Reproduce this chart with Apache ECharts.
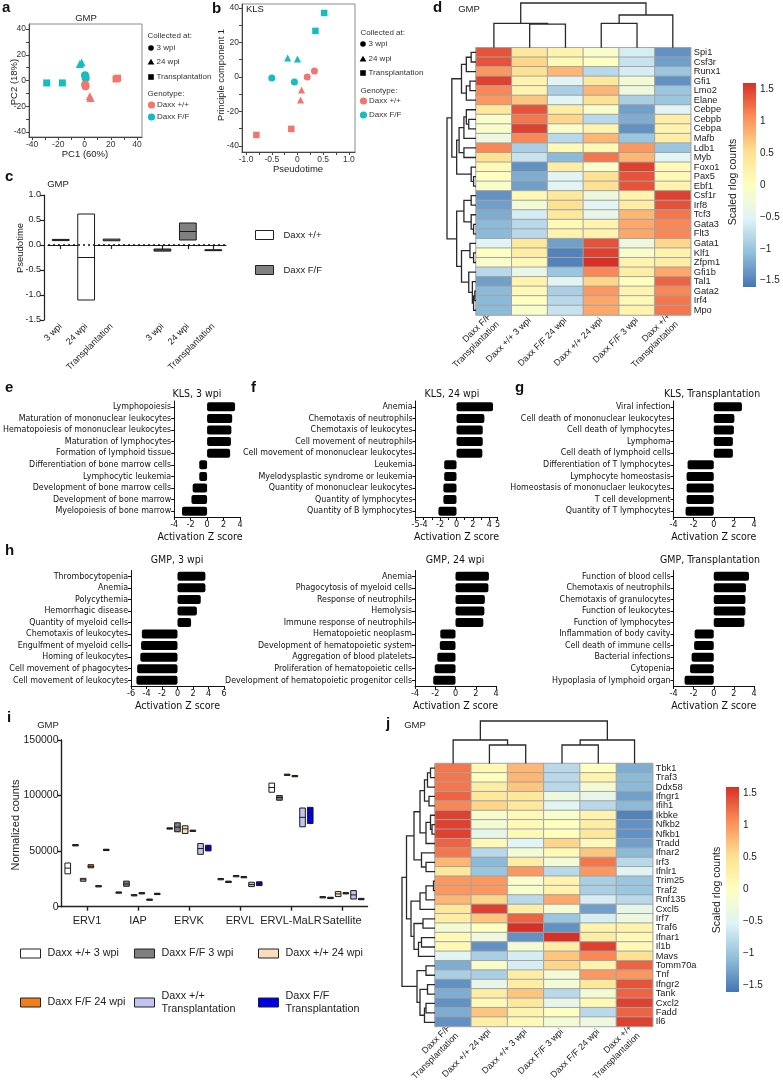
<!DOCTYPE html>
<html><head><meta charset="utf-8">
<script src="https://cdn.jsdelivr.net/npm/echarts@6/dist/echarts.min.js"></script>
<style>html,body{margin:0;padding:0;background:#fff}#c{width:783px;height:1084px}</style>
</head><body><div id="c"></div><script>
// ---------------- DATA ----------------
// Panel a (GMP PCA): [PC1, PC2]
const aWT_3wpi = [[0.5,-3.2],[0.8,-4.5]];
const aWT_24wpi = [[4.0,-12.3],[4.6,-13.6]];
const aWT_tx = [[24.0,1.2],[25.2,1.8]];
const aFF_3wpi = [[0.4,4.1],[0.9,2.0]];
const aFF_24wpi = [[-3.6,12.8],[-2.2,14.0]];
const aFF_tx = [[-28.8,-1.9],[-16.9,-1.9]];
const aTicks = [-40,-20,0,20,40];
// Panel b (KLS): [pseudotime, PC1]
const bWT_3wpi = [[0.19,0.0],[0.33,3.5]];
const bWT_24wpi = [[0.08,-7.5],[0.06,-13.3]];
const bWT_tx = [[-0.12,-30.1],[-0.80,-33.6]];
const bFF_3wpi = [[-0.50,-0.6],[-0.06,-2.9]];
const bFF_24wpi = [[-0.19,11.0],[0.0,10.4]];
const bFF_tx = [[0.52,37.1],[0.35,26.7]];
const bXTicks = [-1,-0.5,0,0.5,1];
const bYTicks = [-40,-20,0,20,40];
// Panel c: categories and [catIndex, min, median, max]
const cCats = ['3 wpi','24 wpi','Transplantation','','3 wpi','24 wpi','Transplantation'];
const cWT = [[0,0.088,0.1,0.112],[1,-1.1,-0.25,0.62],[2,0.085,0.1,0.118]];
const cFF = [[4,-0.122,-0.1,-0.08],[5,0.1,0.27,0.44],[6,-0.103,-0.1,-0.097]];
// Panel d heatmap
const dCols = ['Daxx F/F\nTransplantation','Daxx +/+ 3 wpi','Daxx F/F 24 wpi','Daxx +/+ 24 wpi','Daxx F/F 3 wpi','Daxx +/+\nTransplantation'];
const dRows = ['Spi1','Csf3r','Runx1','Gfi1','Lmo2','Elane','Cebpe','Cebpb','Cebpa','Mafb','Ldb1','Myb','Foxo1','Pax5','Ebf1','Csf1r','Irf8','Tcf3','Gata3','Flt3','Gata1','Klf1','Zfpm1','Gfi1b','Tal1','Gata2','Irf4','Mpo'];
const dValues = [
 [1.4,0.4,0.2,-0.1,-0.6,-1.4],[1.4,0.6,0.1,0.0,-0.7,-1.3],[1.0,0.5,0.8,-0.8,-0.6,-1.0],[1.5,0.2,-0.5,0.4,-0.2,-1.4],
 [1.1,0.2,-0.9,0.8,-0.3,-1.0],[1.0,0.7,-0.5,0.5,-0.9,-1.0],[0.4,1.4,0.3,-0.1,-1.3,-0.5],[-0.1,1.2,0.6,-0.8,-1.2,0.3],
 [-0.1,1.5,-0.1,0.2,-1.4,0.2],[-0.3,1.1,-0.8,0.8,-1.0,0.3],[1.1,-0.9,0.1,0.1,1.0,-1.0],[0.5,-0.7,-1.1,1.2,0.8,-0.5],
 [0.1,-1.4,0.3,-0.1,1.5,0.1],[0.0,-1.2,-0.5,0.5,1.4,0.1],[-0.1,-1.3,-0.5,0.5,1.4,0.2],[-1.4,0.1,0.4,-0.3,0.2,1.5],
 [-1.3,-0.2,0.5,-0.5,0.3,1.4],[-1.2,-0.6,0.4,-0.4,0.8,1.2],[-1.1,-0.8,0.1,0.2,0.9,1.1],[-1.1,-0.8,0.2,0.2,0.9,1.1],
 [-0.5,0.4,-1.3,1.4,-0.3,0.6],[0.0,0.3,-1.5,1.5,-0.1,0.2],[-0.1,0.1,-1.5,1.6,0.2,0.3],[-0.8,-0.4,-1.0,1.1,0.3,0.9],
 [-1.3,0.2,-0.5,0.6,0.0,1.3],[-1.1,0.1,-0.9,1.0,0.2,1.1],[-1.1,0.0,-0.8,0.9,0.1,1.2],[-1.1,-0.1,-0.7,0.9,0.2,1.2]];
// dendrogram merges [childA, childB, height]; ids >= n are earlier merges
const dColMerges = [[1,2,23.5],[0,6,24.4],[3,4,24.4],[8,5,32.7],[7,9,44.7]];
const dRowMerges = [[0,1,2],[3,4,2.5],[13,14,1],[12,30,2],[15,16,2],[18,19,1],[17,33,2],[21,22,1],[20,35,2.5],
 [25,26,0.5],[37,27,1],[24,38,1.5],[23,39,3],[7,8,3],[6,41,4],[42,9,5],[10,11,5],[28,2,4],[29,5,4],[45,46,6],
 [43,44,7],[48,31,8],[47,49,10],[32,34,5],[36,40,6],[51,52,8],[50,53,12]];
// Panels e-h
const eLabels = ['Lymphopoiesis','Maturation of mononuclear leukocytes','Hematopoiesis of mononuclear leukocytes','Maturation of lymphocytes','Formation of lymphoid tissue','Differentiation of bone marrow cells','Lymphocytic leukemia','Development of bone marrow cells','Development of bone marrow','Myelopoiesis of bone marrow'];
const eValues = [3.4,3.05,2.95,2.9,2.8,-0.95,-0.95,-1.75,-1.9,-3.05];
const fLabels = ['Anemia','Chemotaxis of neutrophils','Chemotaxis of leukocytes','Cell movement of neutrophils','Cell movement of mononuclear leukocytes','Leukemia','Myelodysplastic syndrome or leukemia','Quantity of mononuclear leukocytes','Quantity of lymphocytes','Quantity of B lymphocytes'];
const fValues = [4.45,3.4,3.2,3.2,3.15,-1.5,-1.5,-1.6,-1.6,-2.2];
const fTickLabels = [-5,-4,-2,0,2,4,5];
const gLabels = ['Viral infection','Cell death of mononuclear leukocytes','Cell death of lymphocytes','Lymphoma','Cell death of lymphoid cells','Differentiation of T lymphocytes','Lymphocyte homeostasis','Homeostasis of mononuclaer leukocytes','T cell development','Quantity of T lymphocytes'];
const gValues = [2.8,2.05,2.0,1.9,1.9,-2.6,-2.7,-2.7,-2.7,-2.8];
const h1Labels = ['Thrombocytopenia','Anemia','Polycythemia','Hemorrhagic disease','Quantity of myeloid cells','Chemotaxis of leukocytes','Engulfment of myeloid cells','Homing of leukocytes','Cell movement of phagocytes','Cell movement of leukocytes'];
const h1Values = [3.6,3.6,3.0,2.5,1.75,-4.6,-4.7,-4.8,-5.2,-5.3];
const h2Labels = ['Anemia','Phagocytosis of myeloid cells','Response of neutrophils','Hemolysis','Immune response of neutrophils','Hematopoietic neoplasm','Development of hematopoietic system','Aggregation of blood platelets','Proliferation of hematopoietic cells','Development of hematopoietic progenitor cells'];
const h2Values = [3.3,3.25,2.9,2.85,2.75,-1.5,-1.55,-1.8,-2.05,-2.2];
const h3Labels = ['Function of blood cells','Chemotaxis of neutrophils','Chemotaxis of granulocytes','Function of leukocytes','Function of lymphocytes','Inflammation of body cavity','Cell death of immune cells','Bacterial infections','Cytopenia','Hypoplasia of lymphoid organ'];
const h3Values = [3.5,3.2,3.15,3.15,3.05,-1.9,-1.95,-2.2,-2.35,-2.9];
// Panel i: per category [min, median, max]
const iCats = ['ERV1','IAP','ERVK','ERVL','ERVL-MaLR','Satellite'];
const iGroups = ['Daxx +/+ 3 wpi','Daxx F/F 3 wpi','Daxx +/+ 24 wpi','Daxx F/F 24 wpi','Daxx +/+\nTransplantation','Daxx F/F\nTransplantation'];
const iWT3 = [[29600,34700,39300],[12100,12700,13300],[69800,70400,71000],[24200,24800,25400],[103000,107300,111200],[7900,8500,9100]];
const iFF3 = [[54700,55300,55900],[18400,20500,23000],[67400,71600,75500],[21800,22400,23000],[95800,98200,100000],[7300,7900,8500]];
const iWT24 = [[22900,24200,25500],[9700,10300,10900],[65900,70100,72800],[26900,27500,28100],[118100,118700,119300],[9100,11500,13600]];
const iFF24 = [[35000,36300,37800],[11500,12100,12700],[67700,68300,68900],[26000,26600,27200],[116900,117500,118100],[11500,12100,12700]];
const iWTtx = [[17800,18400,19000],[5700,6300,6900],[47100,52300,56800],[18100,19900,22000],[71900,80400,88800],[6900,10600,14500]];
const iFFtx = [[50500,51100,51700],[10900,11500,12100],[50200,52900,55300],[19000,20500,22400],[74900,84000,89400],[6300,6900,7500]];
// Panel j heatmap
const jCols = ['Daxx F/F\nTransplantation','Daxx +/+ 24 wpi','Daxx +/+ 3 wpi','Daxx F/F 3 wpi','Daxx F/F 24 wpi','Daxx +/+\nTransplantation'];
const jRows = ['Tbk1','Traf3','Ddx58','Ifngr1','Ifih1','Ikbke','Nfkb2','Nfkb1','Tradd','Ifnar2','Irf3','Ifnlr1','Trim25','Traf2','Rnf135','Cxcl5','Irf7','Traf6','Ifnar1','Il1b','Mavs','Tomm70a','Tnf','Ifngr2','Tank','Cxcl2','Fadd','Il6'];
const jValues = [
 [1.2,0.1,0.8,-0.8,0.0,-1.2],[1.2,0.0,0.8,-0.8,0.2,-1.1],[1.2,0.3,0.7,-0.8,-0.2,-1.1],[1.3,0.4,0.4,-0.3,-0.4,-1.3],
 [1.1,0.6,0.4,-0.5,-0.8,-1.1],[1.5,-0.1,0.1,-0.1,0.2,-1.5],[1.5,-0.2,0.1,0.0,0.3,-1.4],[1.5,-0.4,0.1,0.0,0.4,-1.4],
 [1.3,0.1,-0.5,0.6,0.1,-1.3],[1.2,-0.8,-0.2,0.1,0.7,-1.1],[0.8,-1.1,0.3,-0.2,1.2,-0.8],[0.4,-1.0,1.0,-0.8,1.0,-0.5],
 [1.0,1.0,-0.1,0.2,-0.9,-1.0],[1.0,1.0,-0.1,0.2,-0.9,-1.0],[0.8,0.6,-0.8,0.9,-0.6,-0.8],[0.4,1.5,0.3,-0.2,-1.3,-0.4],
 [0.3,0.7,1.3,-1.0,-0.6,-0.3],[-0.2,0.0,1.6,-1.4,0.2,0.2],[0.1,-0.3,-1.4,1.6,0.3,0.1],[0.1,-1.4,-0.2,0.3,1.5,0.1],
 [-0.5,-0.9,-0.6,0.7,1.1,0.5],[-1.2,-0.1,-0.6,0.6,0.2,1.3],[-0.9,-0.9,0.3,-0.2,1.0,1.0],[-1.4,-0.4,0.3,-0.2,0.4,1.4],
 [-1.2,0.3,0.7,-0.8,-0.2,1.3],[-1.4,0.1,0.4,-0.4,0.1,1.5],[-1.2,0.7,0.2,0.0,-0.8,1.3],[-1.4,0.3,0.1,-0.2,-0.3,1.5]];
const jColMerges = [[1,2,18.5],[0,6,23.5],[3,4,18.5],[8,5,23.5],[7,9,42.5]];
const jRowMerges = [[0,1,1.5],[28,2,2.5],[3,4,2],[29,30,3.5],[6,7,1],[5,32,1.5],[33,8,3],[31,34,5],[10,11,3],[9,36,4.5],
 [35,37,7],[12,13,0.5],[39,14,3],[40,15,5],[16,17,4],[18,19,4.5],[43,20,5.5],[42,44,7],[41,45,8],[38,46,9.5],
 [21,22,3],[23,24,2.5],[25,26,3],[50,27,3.5],[49,51,5],[48,52,6],[47,53,11]];
const cbRange = [-1.6, 1.6];
const cbTicks = [-1.5,-1,-0.5,0,0.5,1,1.5];

// ---------------- STYLE / BUILD ----------------
const SANS = 'Liberation Sans, Arial, sans-serif';
const NARROW = '"Liberation Sans Narrow", "Arial Narrow", "DejaVu Sans Condensed", sans-serif';
const RED = '#F3766E', CYAN = '#14BDC2';
const RDYLBU = ['#4575B4','#91BFDB','#E0F3F8','#FFFFBF','#FEE090','#FC8D59','#D73027'];
const grid=[], xAxis=[], yAxis=[], series=[], graphic=[], legend=[];
function addGrid(g, xa, ya){ grid.push(g); const gi=grid.length-1; xAxis.push(Object.assign({gridIndex:gi}, xa)); yAxis.push(Object.assign({gridIndex:gi}, ya)); return gi; }
function txt(x,y,text,o){ o=o||{}; return {type:'text', x:x, y:y, rotation:o.rot||0, silent:true, z:50,
  style:{text:text, fill:o.color||'#222', fontSize:o.size||10, fontFamily:o.font||SANS, fontWeight:o.weight||'normal',
  align:o.align||'left', verticalAlign:o.va||'middle', textAlign:o.align||'left', textVerticalAlign:o.va||'middle', lineHeight:o.lh}}; }
const hide = {show:false};
const axLine = {show:true, onZero:false, lineStyle:{color:'#444', width:1}};

// ---- scatter panels a & b
function scatterPanel(g, xa, ya, groups){
  const gi = addGrid(g, xa, ya);
  groups.forEach(s => series.push({type:'scatter', xAxisIndex:gi, yAxisIndex:gi, data:s.data, symbol:s.symbol, symbolSize:s.size, itemStyle:{color:s.color, opacity:1}, silent:true}));
}
function valAxis(min,max,tickVals,labelVals,fmt,extra){ return Object.assign({type:'value', min:min, max:max, axisLine:axLine,
  axisTick:{show:true, customValues:tickVals, length:3, lineStyle:{color:'#444'}},
  axisLabel:{customValues:labelVals, fontSize:8.5, color:'#333', margin:3, fontFamily:SANS, formatter:fmt}, splitLine:hide}, extra||{}); }
const tens = [-40,-30,-20,-10,0,10,20,30,40];
scatterPanel({left:29, top:24, width:113, height:113, show:true, borderColor:'#8a8a8a', borderWidth:1},
  valAxis(-42.3,43.8,tens,aTicks), valAxis(-43.9,43.9,tens,aTicks),
  [{data:aFF_tx,color:CYAN,symbol:'rect',size:7},{data:aFF_24wpi,color:CYAN,symbol:'triangle',size:8},{data:aFF_3wpi,color:CYAN,symbol:'circle',size:8},
   {data:aWT_3wpi,color:RED,symbol:'circle',size:8},{data:aWT_24wpi,color:RED,symbol:'triangle',size:8},{data:aWT_tx,color:RED,symbol:'rect',size:7}]);
scatterPanel({left:242, top:4, width:113, height:148, show:true, borderColor:'#8a8a8a', borderWidth:1},
  valAxis(-1.08,1.12,[-1,-0.75,-0.5,-0.25,0,0.25,0.5,0.75,1],bXTicks,v=>v===0?'0':(Math.abs(v)===0.5?String(v):v.toFixed(1))),
  valAxis(-43.5,42.3,tens,bYTicks),
  [{data:bFF_tx,color:CYAN,symbol:'rect',size:6.5},{data:bFF_24wpi,color:CYAN,symbol:'triangle',size:7},{data:bFF_3wpi,color:CYAN,symbol:'circle',size:7},
   {data:bWT_3wpi,color:RED,symbol:'circle',size:7},{data:bWT_24wpi,color:RED,symbol:'triangle',size:7},{data:bWT_tx,color:RED,symbol:'rect',size:6.5}]);

function shapeLegend(x, yList, headX){
  const [y1,y2,y3,y4,y5,y6,y7] = yList; const fs=8;
  graphic.push(txt(headX,y1,'Collected at:',{size:fs,color:'#333'}));
  graphic.push({type:'circle',shape:{cx:x,cy:y2,r:2.8},style:{fill:'#000'},silent:true});
  graphic.push(txt(x+5.5,y2,'3 wpi',{size:fs,color:'#333'}));
  graphic.push({type:'polygon',shape:{points:[[x,y3-3.2],[x+3.4,y3+2.6],[x-3.4,y3+2.6]]},style:{fill:'#000'},silent:true});
  graphic.push(txt(x+5.5,y3,'24 wpi',{size:fs,color:'#333'}));
  graphic.push({type:'rect',shape:{x:x-2.8,y:y4-2.8,width:5.6,height:5.6},style:{fill:'#000'},silent:true});
  graphic.push(txt(x+5.5,y4,'Transplantation',{size:fs,color:'#333'}));
  graphic.push(txt(headX,y5,'Genotype:',{size:fs,color:'#333'}));
  graphic.push({type:'circle',shape:{cx:x+0.5,cy:y6,r:3.6},style:{fill:RED},silent:true});
  graphic.push(txt(x+6,y6,'Daxx +/+',{size:fs,color:'#333'}));
  graphic.push({type:'circle',shape:{cx:x+0.5,cy:y7,r:3.6},style:{fill:CYAN},silent:true});
  graphic.push(txt(x+6,y7,'Daxx F/F',{size:fs,color:'#333'}));
}
shapeLegend(151,[36,48,62,77,94,105,117],147.5);
shapeLegend(363,[33,44,59,73,91,101,115],360.5);

// ---- floating bars (c, i)
function floatRender(k, n, spacing, width){
  return function(params, api){
    const ci = api.value(0); const band = api.size([1,0])[0];
    const cx = api.coord([ci,0])[0] + (k-(n-1)/2)*band*spacing; const w = band*width;
    const yMin = api.coord([ci, api.value(1)])[1], yMed = api.coord([ci, api.value(2)])[1], yMax = api.coord([ci, api.value(3)])[1];
    const fill = api.visual('color');
    return {type:'group', children:[
      {type:'rect', shape:{x:cx-w/2, y:yMax, width:w, height:Math.max(yMin-yMax,0.8)}, style:{fill:fill, stroke:'#1a1a1a', lineWidth:1}},
      {type:'line', shape:{x1:cx-w/2, y1:yMed, x2:cx+w/2, y2:yMed}, style:{stroke:'#1a1a1a', lineWidth:1}}]};
  };
}
// Panel c
(function(){
  const gi = addGrid({left:48, top:195, width:178, height:125},
    {type:'category', data:cCats, boundaryGap:true, axisLine:{show:true,lineStyle:{color:'#222',width:1.2}},
     axisTick:{show:true, alignWithLabel:true, length:4, interval:(i,v)=>v!=='', lineStyle:{color:'#222',width:1.2}},
     axisLabel:{interval:0, rotate:45, fontSize:9, color:'#222', fontFamily:SANS, margin:5}},
    {type:'value', min:-1.5, max:1.0, interval:0.5, offset:4, axisLine:{show:true,lineStyle:{color:'#222',width:1.2}},
     axisTick:{show:true,length:4,lineStyle:{color:'#222',width:1.2}}, splitLine:hide,
     axisLabel:{fontSize:9, color:'#222', fontFamily:SANS, margin:3, formatter:v=>v.toFixed(1)}});
  series.push({type:'custom', name:'Daxx +/+', xAxisIndex:gi, yAxisIndex:gi, data:cWT, encode:{x:0,y:[1,2,3]}, itemStyle:{color:'#ffffff',borderColor:'#222',borderWidth:1},
    renderItem:floatRender(0,1,0,0.66), silent:true,
    markLine:{silent:true, symbol:['none','none'], label:{show:false}, lineStyle:{type:[2,3], color:'#111', width:1.5}, data:[{yAxis:0}]}});
  series.push({type:'custom', name:'Daxx F/F', xAxisIndex:gi, yAxisIndex:gi, data:cFF, encode:{x:0,y:[1,2,3]}, itemStyle:{color:'#808080',borderColor:'#222',borderWidth:1},
    renderItem:floatRender(0,1,0,0.66), silent:true});
  legend.push({data:['Daxx +/+','Daxx F/F'], orient:'vertical', left:255, top:230, padding:0, itemWidth:18, itemHeight:9, itemGap:25, icon:'rect',
    selectedMode:false, textStyle:{fontSize:9.5, fontFamily:SANS, color:'#222', padding:[0,0,0,5]}, itemStyle:{borderColor:'#222', borderWidth:1}});
})();

// ---- heatmaps with dendrograms
function dendroSegs(merges, n){
  const pos=[], hgt=[]; for(let i=0;i<n;i++){pos[i]=i+0.5; hgt[i]=0;}
  return merges.map((m,k)=>{ const a=m[0], b=m[1], h=m[2]; const id=n+k;
    const s=[[pos[a],hgt[a]],[pos[a],h],[pos[b],h],[pos[b],hgt[b]]]; pos[id]=(pos[a]+pos[b])/2; hgt[id]=h; return s; });
}
function dendro(g, merges, n, orient){
  const segs = dendroSegs(merges, n); const H = Math.max.apply(null, merges.map(m=>m[2]));
  const posAx = {type:'value', min:0, max:n, show:false, inverse: orient==='left'};
  const hAx = {type:'value', min:0, max:H, show:false, inverse: orient==='left'};
  const gi = orient==='top' ? addGrid(g, posAx, hAx) : addGrid(g, hAx, posAx);
  series.push({type:'custom', xAxisIndex:gi, yAxisIndex:gi, silent:true, data:segs.map(s=> orient==='top'?[s[1][0],s[1][1]]:[s[1][1],s[1][0]]),
    renderItem:function(params, api){ const s=segs[params.dataIndex];
      const pts = s.map(p=>api.coord(orient==='top'?[p[0],p[1]]:[p[1],p[0]]));
      return {type:'polyline', shape:{points:pts}, style:{stroke:'#2a2a2a', lineWidth:1.3, fill:'none'}}; }});
}
const heatIdx = [];
function heatPanel(g, cols, rows, values, colMerges, rowMerges, topG, leftG, cbG, cbLabelX, cbLabelY){
  const gi = addGrid(g,
    {type:'category', data:cols, axisLine:hide, axisTick:hide, splitArea:hide,
     axisLabel:{interval:0, rotate:45, fontSize:9, color:'#222', fontFamily:SANS, margin:4, lineHeight:11}},
    {type:'category', data:rows, inverse:true, position:'right', axisLine:hide, axisTick:hide, splitArea:hide,
     axisLabel:{interval:0, fontSize:9.3, color:'#222', fontFamily:SANS, margin:3}});
  const data=[]; values.forEach((r,ri)=>r.forEach((v,ci)=>data.push([ci,ri,v])));
  series.push({type:'heatmap', xAxisIndex:gi, yAxisIndex:gi, data:data, silent:true, itemStyle:{borderColor:'#a3a3a3', borderWidth:1}, emphasis:{disabled:true}});
  heatIdx.push(series.length-1);
  dendro(topG, colMerges, cols.length, 'top');
  dendro(leftG, rowMerges, rows.length, 'left');
  const cb = addGrid(cbG, {type:'value', min:0, max:1, show:false},
    {type:'value', min:cbRange[0], max:cbRange[1], position:'right', axisLine:hide, axisTick:hide, splitLine:hide,
     axisLabel:{customValues:cbTicks, fontSize:10, color:'#222', fontFamily:SANS, margin:4, formatter:v=>String(v).replace('-','\u2212')}});
  series.push({type:'custom', xAxisIndex:cb, yAxisIndex:cb, silent:true, data:[[0,cbRange[0]]],
    renderItem:function(params, api){ const p0=api.coord([0,cbRange[1]]), p1=api.coord([1,cbRange[0]]);
      return {type:'rect', shape:{x:p0[0], y:p0[1], width:p1[0]-p0[0], height:p1[1]-p0[1]},
        style:{fill:{type:'linear', x:0, y:1, x2:0, y2:0, colorStops:RDYLBU.map((c,i)=>({offset:i/(RDYLBU.length-1), color:c}))}}}; }});
  graphic.push(txt(cbLabelX, cbLabelY, 'Scaled rlog counts', {size:10.5, rot:Math.PI/2, align:'center'}));
}
heatPanel({left:476, top:47.7, width:214.7, height:267.3}, dCols, dRows, dValues, dColMerges, dRowMerges,
  {left:476, top:3, width:214.7, height:44.7}, {left:447, top:47.7, width:29, height:267.3}, {left:743, top:83, width:13, height:204}, 733, 182);
heatPanel({left:435, top:763.5, width:217.7, height:263.5}, jCols, jRows, jValues, jColMerges, jRowMerges,
  {left:435, top:721, width:217.7, height:42.5}, {left:402, top:763.5, width:33, height:263.5}, {left:726, top:787, width:13, height:205}, 717, 890);

// ---- bar panels e-h
function barPanel(g, labels, values, min, max, interval, title, titleX, titleY, fmt){
  const gi = addGrid(g,
    {type:'value', min:min, max:max, interval:interval, axisLine:{show:true,onZero:false,lineStyle:{color:'#111'}},
     axisTick:{show:true,length:3,lineStyle:{color:'#111'}}, splitLine:hide,
     axisLabel:{fontSize:9, color:'#111', fontFamily:NARROW, margin:3, formatter:fmt}},
    {type:'category', data:labels, inverse:true, axisLine:{show:true,onZero:false,lineStyle:{color:'#111'}},
     axisTick:{show:true,alignWithLabel:true,length:3,lineStyle:{color:'#111'}},
     axisLabel:{interval:0, fontSize:8.8, color:'#111', fontFamily:NARROW, margin:3}});
  series.push({type:'bar', xAxisIndex:gi, yAxisIndex:gi, data:values, barWidth:9, silent:true, itemStyle:{color:'#000', borderRadius:2}});
  graphic.push(txt(titleX, titleY, title, {size:10.5, font:NARROW, align:'center', color:'#111'}));
  const gx = g.left + g.width/2;
  graphic.push(txt(gx, g.top+g.height+20.5, 'Activation Z score', {size:10.5, font:NARROW, align:'center', color:'#111'}));
}
barPanel({left:160, top:401, width:80, height:116}, eLabels, eValues, -4, 4, 2, 'KLS, 3 wpi', 197, 394);
barPanel({left:415.5, top:401, width:82, height:116}, fLabels, fValues, -5, 5, 1, 'KLS, 24 wpi', 452, 394, v=>fTickLabels.indexOf(v)>=0?String(v):'');
barPanel({left:673.5, top:401, width:80.5, height:116}, gLabels, gValues, -4, 4, 2, 'KLS, Transplantation', 712, 394);
barPanel({left:131, top:570.5, width:93, height:115.5}, h1Labels, h1Values, -6, 6, 2, 'GMP, 3 wpi', 177, 560);
barPanel({left:415, top:570.5, width:81, height:115.5}, h2Labels, h2Values, -4, 4, 2, 'GMP, 24 wpi', 455, 560);
barPanel({left:673.5, top:570.5, width:80.5, height:115.5}, h3Labels, h3Values, -4, 4, 2, 'GMP, Transplantation', 710, 560);

// ---- panel i
(function(){
  const gi = addGrid({left:61.5, top:740, width:306, height:166.7},
    {type:'category', data:iCats, boundaryGap:true, axisLine:{show:true,lineStyle:{color:'#222',width:1.4}},
     axisTick:{show:true,alignWithLabel:true,length:4,lineStyle:{color:'#222',width:1.4}},
     axisLabel:{interval:0, fontSize:11, color:'#222', fontFamily:SANS, margin:9}},
    {type:'value', min:0, max:150000, interval:50000, axisLine:{show:true,onZero:false,lineStyle:{color:'#222',width:1.4}},
     axisTick:{show:true,length:4,lineStyle:{color:'#222',width:1.4}}, splitLine:hide,
     axisLabel:{fontSize:10.5, color:'#222', fontFamily:SANS, margin:3, formatter:v=>String(v)}});
  const sets = [iWT3, iFF3, iWT24, iFF24, iWTtx, iFFtx];
  const cols = ['#ffffff','#7f7f7f','#FBDDBE','#F07F1C','#C4C4F2','#0000E6'];
  sets.forEach((set,k)=>{
    series.push({type:'custom', name:iGroups[k], xAxisIndex:gi, yAxisIndex:gi, silent:true, encode:{x:0,y:[1,2,3]},
      data:set.map((v,ci)=>[ci, v[0], v[1], v[2]]), itemStyle:{color:cols[k], borderColor:'#222', borderWidth:1},
      renderItem:floatRender(k, 6, 0.151, 0.11)});
  });
  const pos = [[20,947],[134,947],[258,947],[20,996],[134,989.5],[258,989.5]];
  iGroups.forEach((name,k)=>legend.push({data:[name], left:pos[k][0], top:pos[k][1], padding:0, itemWidth:20, itemHeight:9, icon:'rect', selectedMode:false,
    textStyle:{fontSize:10.8, fontFamily:SANS, color:'#222', lineHeight:13, padding:[0,0,0,2]}, itemStyle:{borderColor:'#222', borderWidth:1}}));
})();

// ---- texts
const L = (x,y,t)=>graphic.push(txt(x,y,t,{size:15, weight:'bold', color:'#111'}));
L(2,8,'a'); L(212,9,'b'); L(5,177,'c'); L(433,8,'d'); L(5,388,'e'); L(251,388,'f'); L(515,388,'g'); L(5,551,'h'); L(7,718,'i'); L(386,724,'j');
graphic.push(txt(86,18,'GMP',{size:9.5,align:'center'}));
graphic.push(txt(246,9,'KLS',{size:9.5}));
graphic.push(txt(469,9,'GMP',{size:9.5,align:'center'}));
graphic.push(txt(58,184,'GMP',{size:9.5,align:'center'}));
graphic.push(txt(48,725,'GMP',{size:9.5,align:'center'}));
graphic.push(txt(415,725,'GMP',{size:9.5,align:'center'}));
graphic.push(txt(85,154,'PC1 (60%)',{size:9.5,align:'center'}));
graphic.push(txt(14,82,'PC2 (18%)',{size:9.5,align:'center',rot:Math.PI/2}));
graphic.push(txt(298,169,'Pseudotime',{size:9.5,align:'center'}));
graphic.push(txt(221,75,'Principle component 1',{size:9.3,align:'center',rot:Math.PI/2}));
graphic.push(txt(20,248,'Pseudotime',{size:9.5,align:'center',rot:Math.PI/2}));
graphic.push(txt(16,825,'Normalized counts',{size:11,align:'center',rot:Math.PI/2}));

const chart = echarts.init(document.getElementById('c'), null, {renderer:'canvas'});
chart.setOption({animation:false, backgroundColor:'#fff', grid:grid, xAxis:xAxis, yAxis:yAxis, series:series, legend:legend, graphic:graphic,
  visualMap:[{type:'continuous', show:false, min:cbRange[0], max:cbRange[1], seriesIndex:heatIdx, inRange:{color:RDYLBU}}]});
</script></body></html>
